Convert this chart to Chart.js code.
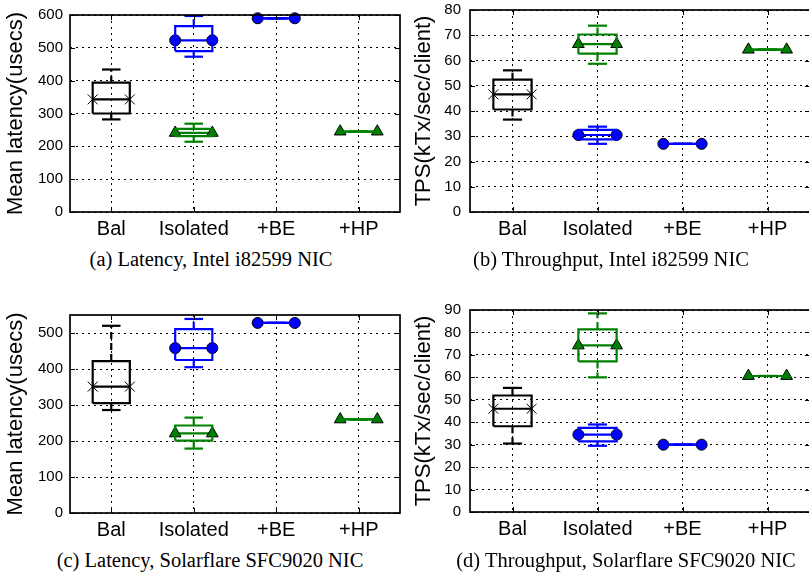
<!DOCTYPE html>
<html>
<head>
<meta charset="utf-8">
<script src="https://cdn.jsdelivr.net/npm/chart.js@4.4.1/dist/chart.umd.min.js"></script>
<style>
html,body{margin:0;padding:0;background:#fff;width:809px;height:572px;overflow:hidden;position:relative}
.wrap{position:absolute;overflow:visible}
.wrap canvas{display:block}
.cap{position:absolute;font-family:"Liberation Serif","Times New Roman",serif;font-size:20.5px;line-height:20.5px;color:#000;white-space:nowrap;transform:translateX(-50%)}
</style>
</head>
<body>
<div class="wrap" style="left:0px;top:0px;width:408px;height:245px"><canvas id="ca" width="408" height="245" style="width:408px;height:245px"></canvas></div>
<div class="wrap" style="left:405px;top:0px;width:413px;height:245px"><canvas id="cb" width="413" height="245" style="width:413px;height:245px"></canvas></div>
<div class="wrap" style="left:0px;top:300px;width:408px;height:245px"><canvas id="cc" width="408" height="245" style="width:408px;height:245px"></canvas></div>
<div class="wrap" style="left:405px;top:300px;width:413px;height:245px"><canvas id="cd" width="413" height="245" style="width:413px;height:245px"></canvas></div>
<div class="cap" style="left:211px;top:249px">(a) Latency, Intel i82599 NIC</div>
<div class="cap" style="left:611px;top:249px">(b) Throughput, Intel i82599 NIC</div>
<div class="cap" style="left:210px;top:550px">(c) Latency, Solarflare SFC9020 NIC</div>
<div class="cap" style="left:626px;top:550px">(d) Throughput, Solarflare SFC9020 NIC</div>
<script>
// ---------- DATA ----------
const categories = ['Bal', 'Isolated', '+BE', '+HP'];
// each series: [lower whisker, Q1, median, Q3, upper whisker]

// (a) Latency, Intel i82599 NIC  (usecs)
const latIntelBal      = [282, 300, 343, 394, 434];
const latIntelIsoBlue  = [473, 490, 523, 566, 597];
const latIntelIsoGreen = [214, 231, 241, 253, 269];
const latIntelBE       = [590, 590, 590, 590, 590];
const latIntelHP       = [245, 245, 245, 245, 245];
const latIntelTicks    = [0, 100, 200, 300, 400, 500, 600];

// (b) Throughput, Intel i82599 NIC (kTx/sec/client)
const tpsIntelBal      = [36.6, 40.6, 46.6, 52.4, 56.1];
const tpsIntelIsoGreen = [58.7, 62.7, 66.5, 70.3, 73.8];
const tpsIntelIsoBlue  = [27.0, 28.8, 30.5, 32.5, 33.8];
const tpsIntelBE       = [27.0, 27.0, 27.0, 27.0, 27.0];
const tpsIntelHP       = [64.3, 64.3, 64.3, 64.3, 64.3];
const tpsIntelTicks    = [0, 10, 20, 30, 40, 50, 60, 70, 80];

// (c) Latency, Solarflare SFC9020 NIC (usecs)
const latSfBal      = [286, 305, 351, 422, 520];
const latSfIsoBlue  = [405, 425, 458, 511, 539];
const latSfIsoGreen = [179, 201, 221, 243, 265];
const latSfBE       = [528, 528, 528, 528, 528];
const latSfHP       = [260, 260, 260, 260, 260];
const latSfTicks    = [0, 100, 200, 300, 400, 500];

// (d) Throughput, Solarflare SFC9020 NIC (kTx/sec/client)
const tpsSfBal      = [30.5, 38.2, 46.0, 51.9, 55.3];
const tpsSfIsoGreen = [60.0, 67.1, 74.2, 81.4, 88.5];
const tpsSfIsoBlue  = [29.5, 31.5, 34.5, 37.5, 39.0];
const tpsSfBE       = [30.0, 30.0, 30.0, 30.0, 30.0];
const tpsSfHP       = [60.6, 60.6, 60.6, 60.6, 60.6];
const tpsSfTicks    = [0, 10, 20, 30, 40, 50, 60, 70, 80, 90];

// ---------- STYLE ----------
const BLACK = '#000000', BLUE = '#0000ff', GREEN = '#008000';
const MK_X   = {style: 'crossRot', r: 7, fill: BLACK};
const MK_O   = {style: 'circle',   r: 5.5, fill: BLUE};
const MK_TRI = {style: 'triangle', r: 6.8, fill: GREEN};
const BOX_HALF = 0.225, CAP_HALF = 0.1125, LW = 2.2;

Chart.defaults.font.family = '"Liberation Sans", Arial, sans-serif';
Chart.defaults.color = '#000';

function pos(cat) { return categories.indexOf(cat) + 1; }

function boxDatasets(cat, s, color, mk) {
  const p = pos(cat);
  const [lo, q1, med, q3, hi] = s;
  const base = {showLine: true, pointRadius: 0, borderColor: color, borderWidth: LW,
                clip: false, fill: false, tension: 0, borderJoinStyle: 'miter', borderCapStyle: 'butt'};
  const out = [];
  // whiskers (dashed)
  out.push({...base, borderDash: [7, 4], data: [{x: p, y: q1}, {x: p, y: lo}]});
  out.push({...base, borderDash: [7, 4], data: [{x: p, y: q3}, {x: p, y: hi}]});
  // caps
  out.push({...base, data: [{x: p - CAP_HALF, y: lo}, {x: p + CAP_HALF, y: lo}]});
  out.push({...base, data: [{x: p - CAP_HALF, y: hi}, {x: p + CAP_HALF, y: hi}]});
  // box
  out.push({...base, data: [{x: p - BOX_HALF, y: q1}, {x: p + BOX_HALF, y: q1}, {x: p + BOX_HALF, y: q3},
                            {x: p - BOX_HALF, y: q3}, {x: p - BOX_HALF, y: q1}]});
  // median with markers at both ends
  out.push({...base, pointRadius: mk.r, pointHoverRadius: mk.r, pointStyle: mk.style,
            pointBackgroundColor: mk.fill, pointBorderColor: BLACK, pointBorderWidth: 1,
            data: [{x: p - BOX_HALF, y: med}, {x: p + BOX_HALF, y: med}]});
  return out;
}

const framePlugin = {
  id: 'frame',
  afterDraw(chart) {
    const {ctx, chartArea: a, scales: {x, y}} = chart;
    ctx.save();
    ctx.strokeStyle = '#000';
    ctx.lineWidth = 1;
    ctx.beginPath();
    x.ticks.forEach(t => {
      const px = Math.round(x.getPixelForValue(t.value)) + 0.5;
      ctx.moveTo(px, a.bottom); ctx.lineTo(px, a.bottom - 5);
      ctx.moveTo(px, a.top); ctx.lineTo(px, a.top + 5);
    });
    y.ticks.forEach(t => {
      const py = Math.round(y.getPixelForValue(t.value)) + 0.5;
      ctx.moveTo(a.left, py); ctx.lineTo(a.left + 5, py);
      ctx.moveTo(a.right, py); ctx.lineTo(a.right - 5, py);
    });
    ctx.stroke();
    ctx.lineWidth = 1.7;
    ctx.strokeRect(a.left, a.top, a.right - a.left, a.bottom - a.top);
    ctx.restore();
  }
};

function makePanel(canvasId, cfg) {
  const datasets = [];
  cfg.series.forEach(s => datasets.push(...boxDatasets(s.cat, s.stats, s.color, s.mk)));
  new Chart(document.getElementById(canvasId), {
    type: 'scatter',
    data: {datasets},
    plugins: [framePlugin],
    options: {
      responsive: false,
      animation: false,
      events: [],
      layout: {padding: {top: cfg.padTop, right: cfg.padRight, left: 0, bottom: 0}},
      plugins: {legend: {display: false}, tooltip: {enabled: false}},
      scales: {
        x: {
          type: 'linear', min: 0.5, max: categories.length + 0.5,
          afterBuildTicks: sc => { sc.ticks = categories.map((c, i) => ({value: i + 1})); },
          afterFit: sc => { sc.height = cfg.xh; sc.paddingLeft = 0; sc.paddingRight = 0; },
          ticks: {callback: v => categories[v - 1], font: {size: 20}, color: '#000', padding: 5,
                  maxRotation: 0, autoSkip: false},
          grid: {color: '#000', lineWidth: 1, drawTicks: false},
          border: {display: false, dash: [2, 4]}
        },
        y: {
          type: 'linear', min: 0, max: cfg.ymax,
          afterBuildTicks: sc => { sc.ticks = cfg.ticks.map(v => ({value: v})); },
          afterFit: sc => { sc.width = cfg.yw; sc.paddingTop = 0; sc.paddingBottom = 0; },
          ticks: {font: {size: 15}, color: '#000', padding: cfg.tickPad},
          grid: {color: '#000', lineWidth: 1, drawTicks: false},
          border: {display: false, dash: [2, 4]},
          title: {display: true, text: cfg.title, font: {size: 22}, color: '#000',
                  padding: {top: cfg.titlePad, bottom: 0}}
        }
      }
    }
  });
}

makePanel('ca', {
  ymax: 600, ticks: latIntelTicks, title: 'Mean latency(usecs)',
  yw: 70, xh: 33, padTop: 15, padRight: 1, tickPad: 7, titlePad: 3,
  series: [
    {cat: 'Bal', stats: latIntelBal, color: BLACK, mk: MK_X},
    {cat: 'Isolated', stats: latIntelIsoBlue, color: BLUE, mk: MK_O},
    {cat: 'Isolated', stats: latIntelIsoGreen, color: GREEN, mk: MK_TRI},
    {cat: '+BE', stats: latIntelBE, color: BLUE, mk: MK_O},
    {cat: '+HP', stats: latIntelHP, color: GREEN, mk: MK_TRI}
  ]
});
makePanel('cb', {
  ymax: 80, ticks: tpsIntelTicks, title: 'TPS(kTx/sec/client)',
  yw: 65, xh: 33, padTop: 10, padRight: 2, tickPad: 9, titlePad: 6,
  series: [
    {cat: 'Bal', stats: tpsIntelBal, color: BLACK, mk: MK_X},
    {cat: 'Isolated', stats: tpsIntelIsoGreen, color: GREEN, mk: MK_TRI},
    {cat: 'Isolated', stats: tpsIntelIsoBlue, color: BLUE, mk: MK_O},
    {cat: '+BE', stats: tpsIntelBE, color: BLUE, mk: MK_O},
    {cat: '+HP', stats: tpsIntelHP, color: GREEN, mk: MK_TRI}
  ]
});
makePanel('cc', {
  ymax: 550, ticks: latSfTicks, title: 'Mean latency(usecs)',
  yw: 70, xh: 32, padTop: 15, padRight: 1, tickPad: 7, titlePad: 3,
  series: [
    {cat: 'Bal', stats: latSfBal, color: BLACK, mk: MK_X},
    {cat: 'Isolated', stats: latSfIsoBlue, color: BLUE, mk: MK_O},
    {cat: 'Isolated', stats: latSfIsoGreen, color: GREEN, mk: MK_TRI},
    {cat: '+BE', stats: latSfBE, color: BLUE, mk: MK_O},
    {cat: '+HP', stats: latSfHP, color: GREEN, mk: MK_TRI}
  ]
});
makePanel('cd', {
  ymax: 90, ticks: tpsSfTicks, title: 'TPS(kTx/sec/client)',
  yw: 65, xh: 33, padTop: 10, padRight: 2, tickPad: 9, titlePad: 6,
  series: [
    {cat: 'Bal', stats: tpsSfBal, color: BLACK, mk: MK_X},
    {cat: 'Isolated', stats: tpsSfIsoGreen, color: GREEN, mk: MK_TRI},
    {cat: 'Isolated', stats: tpsSfIsoBlue, color: BLUE, mk: MK_O},
    {cat: '+BE', stats: tpsSfBE, color: BLUE, mk: MK_O},
    {cat: '+HP', stats: tpsSfHP, color: GREEN, mk: MK_TRI}
  ]
});
</script>
</body>
</html>
